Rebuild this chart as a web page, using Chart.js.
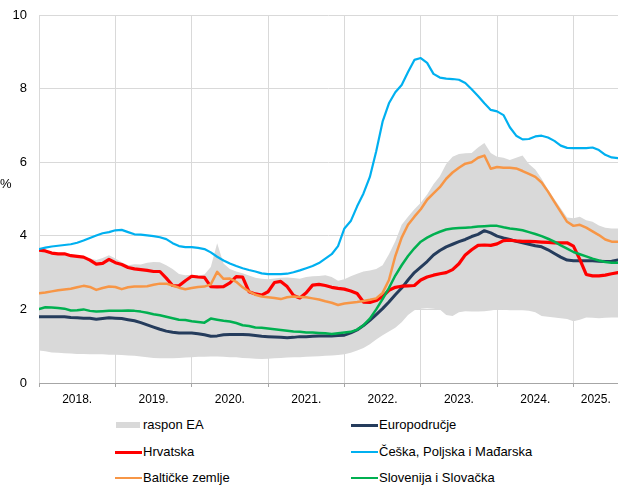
<!DOCTYPE html>
<html>
<head>
<meta charset="utf-8">
<script src="https://cdn.jsdelivr.net/npm/chart.js@4.4.1/dist/chart.umd.min.js"></script>
<style>
  body { margin: 0; background: #fff; font-family: "Liberation Sans", Arial, sans-serif; }
  #wrap { position: relative; width: 618px; height: 486px; }
  #chartBox { position: absolute; left: 0; top: 0; width: 618px; height: 410px; }
  #unit { position: absolute; left: 0; top: 176px; font-size: 13px; color: #000; }
  .item { position: absolute; height: 16px; line-height: 16px; font-size: 13px; color: #000; white-space: nowrap; }
  .sym { position: absolute; left: 0; }
</style>
</head>
<body>
<div id="wrap">
  <div id="chartBox"><canvas id="myChart"></canvas></div>
  <span id="unit">%</span>
  <div id="legend"></div>
</div>
<script>
// godine na osi x (mjesečni podaci, siječanj 2018. - kolovoz 2025.)
const years = ['2018.', '2019.', '2020.', '2021.', '2022.', '2023.', '2024.', '2025.'];
const yTicks = [0, 2, 4, 6, 8, 10];

// raspon EA (min / max)
const eaMin = [0.88,0.86,0.83,0.82,0.81,0.80, 0.79,0.79,0.78,0.78,0.78,0.77,
  0.77,0.76,0.75,0.74,0.72,0.70, 0.68,0.67,0.67,0.67,0.68,0.69,
  0.70,0.71,0.71,0.72,0.72,0.71, 0.70,0.70,0.68,0.67,0.66,0.65,
  0.66,0.67,0.68,0.69,0.70,0.70, 0.71,0.72,0.73,0.74,0.75,0.76,
  0.78,0.82,0.88,0.95,1.05,1.18, 1.30,1.40,1.50,1.65,1.85,1.98,
  2.02,2.03,2.02,2.00,1.85,1.82, 1.92,1.95,1.94,1.94,1.95,1.97,
  2.00,1.99,1.98,1.98,1.98,1.96, 1.92,1.82,1.80,1.78,1.76,1.74,
  1.68,1.72,1.78,1.77,1.76,1.77,1.78,1.78];
const eaMax = [3.63,3.60,3.55,3.52,3.50,3.46, 3.44,3.42,3.38,3.34,3.40,3.47,
  3.38,3.28,3.20,3.23,3.22,3.27, 3.29,3.28,3.20,3.10,2.96,2.93,
  2.94,2.92,2.95,3.15,3.80,3.25, 3.10,3.03,2.98,2.92,2.86,2.83,
  2.82,2.84,2.86,2.87,2.85,2.83, 2.88,2.90,2.91,2.93,2.88,2.78,
  2.82,2.90,2.97,3.03,3.06,3.10, 3.20,3.50,3.85,4.30,4.52,4.72,
  4.90,5.12,5.40,5.62,5.95,6.15, 6.22,6.24,6.25,6.40,6.52,6.25,
  6.15,6.12,6.06,6.12,6.18,5.95, 5.80,5.55,5.25,5.00,4.75,4.50,
  4.48,4.52,4.42,4.38,4.28,4.22,4.20,4.20];

const euroArea = [1.80,1.80,1.80,1.80,1.80,1.78, 1.77,1.76,1.76,1.73,1.75,1.77,
  1.76,1.75,1.72,1.69,1.64,1.58, 1.52,1.46,1.41,1.38,1.36,1.36,
  1.36,1.34,1.31,1.27,1.28,1.31, 1.32,1.32,1.32,1.31,1.29,1.27,
  1.26,1.25,1.24,1.23,1.24,1.26, 1.26,1.27,1.28,1.28,1.28,1.29,
  1.30,1.36,1.44,1.56,1.70,1.86, 2.02,2.20,2.40,2.58,2.80,3.00,
  3.15,3.30,3.48,3.60,3.70,3.77, 3.84,3.90,3.98,4.04,4.14,4.08,
  3.99,3.94,3.90,3.85,3.81,3.77, 3.73,3.70,3.62,3.52,3.42,3.34,
  3.32,3.32,3.32,3.32,3.31,3.30,3.31,3.34];

const croatia = [3.61,3.59,3.53,3.51,3.51,3.46, 3.44,3.42,3.34,3.23,3.25,3.36,
  3.27,3.22,3.14,3.10,3.08,3.06, 3.03,3.03,2.85,2.65,2.64,2.78,
  2.90,2.88,2.87,2.62,2.61,2.62, 2.72,2.89,2.88,2.48,2.42,2.39,
  2.48,2.73,2.76,2.62,2.38,2.31, 2.45,2.66,2.68,2.65,2.60,2.57,
  2.55,2.50,2.43,2.20,2.19,2.24, 2.35,2.52,2.60,2.63,2.64,2.65,
  2.80,2.88,2.93,2.97,3.00,3.08, 3.24,3.48,3.62,3.74,3.75,3.74,
  3.78,3.87,3.88,3.86,3.85,3.85, 3.84,3.83,3.82,3.81,3.81,3.81,
  3.72,3.36,2.95,2.91,2.91,2.93,2.97,3.00];

const czPlHu = [3.64,3.68,3.71,3.73,3.75,3.77, 3.81,3.87,3.94,4.01,4.07,4.10,
  4.15,4.16,4.10,4.04,4.03,4.01, 3.99,3.96,3.91,3.80,3.72,3.69,
  3.69,3.67,3.64,3.55,3.43,3.33, 3.25,3.18,3.12,3.07,3.03,2.98,
  2.96,2.96,2.96,2.97,3.01,3.06, 3.12,3.18,3.26,3.38,3.50,3.72,
  4.20,4.40,4.80,5.15,5.60,6.30, 7.10,7.60,7.90,8.10,8.45,8.78,
  8.83,8.70,8.40,8.30,8.27,8.26, 8.24,8.15,7.98,7.80,7.60,7.42,
  7.38,7.28,6.95,6.72,6.62,6.63, 6.70,6.72,6.67,6.58,6.45,6.39,
  6.38,6.38,6.38,6.40,6.33,6.20,6.13,6.11];

const baltics = [2.44,2.46,2.49,2.52,2.54,2.56, 2.60,2.64,2.61,2.53,2.58,2.62,
  2.61,2.55,2.60,2.62,2.62,2.63, 2.67,2.70,2.70,2.65,2.59,2.55,
  2.58,2.61,2.62,2.68,3.02,2.83, 2.84,2.75,2.60,2.49,2.40,2.35,
  2.33,2.31,2.28,2.33,2.35,2.34, 2.33,2.30,2.27,2.22,2.18,2.12,
  2.16,2.18,2.20,2.23,2.26,2.30, 2.45,2.80,3.45,3.95,4.30,4.52,
  4.72,4.98,5.15,5.32,5.55,5.72, 5.85,5.96,6.00,6.12,6.18,5.82,
  5.87,5.85,5.85,5.83,5.76,5.68, 5.60,5.45,5.20,4.92,4.65,4.38,
  4.27,4.30,4.22,4.12,4.02,3.90,3.84,3.84];

const siSk = [2.01,2.06,2.05,2.04,2.02,1.97, 1.98,2.00,1.96,1.94,1.95,1.96,
  1.96,1.96,1.97,1.96,1.94,1.91, 1.87,1.84,1.80,1.76,1.72,1.71,
  1.68,1.66,1.64,1.75,1.72,1.69, 1.67,1.63,1.57,1.55,1.51,1.50,
  1.48,1.46,1.44,1.42,1.40,1.39, 1.37,1.37,1.36,1.35,1.33,1.35,
  1.37,1.39,1.45,1.57,1.75,2.00, 2.28,2.58,2.92,3.20,3.45,3.66,
  3.84,3.95,4.04,4.11,4.17,4.20, 4.21,4.22,4.23,4.25,4.26,4.27,
  4.27,4.23,4.20,4.18,4.15,4.10, 4.05,3.99,3.92,3.84,3.74,3.65,
  3.56,3.50,3.44,3.38,3.33,3.29,3.27,3.27];

// pozicije oznaka: granice godina i sredine godina
const nMonths = euroArea.length;
const boundaries = years.map((y, i) => i * 12);
const labelPos = years.map((y, i) => i * 12 + 6);
labelPos[labelPos.length - 1] = (boundaries[boundaries.length - 1] + nMonths - 1) / 2;

const toXY = arr => arr.map((v, i) => ({ x: i, y: v }));

const fontFam = '"Liberation Sans", Arial, sans-serif';

const lineDs = (label, arr, color, width, order) => ({
    label: label,
    data: toXY(arr),
    borderColor: color,
    backgroundColor: color,
    borderWidth: width,
    pointRadius: 0,
    tension: 0,
    fill: false,
    borderJoinStyle: 'round',
    borderCapStyle: 'round',
    order: order
});

const ctx = document.getElementById('myChart').getContext('2d');
const myChart = new Chart(ctx, {
    type: 'line',
    data: {
        datasets: [
            { label: 'min', data: toXY(eaMin), borderWidth: 0, pointRadius: 0, fill: false, order: 8 },
            { label: 'raspon EA', data: toXY(eaMax), borderWidth: 0, pointRadius: 0,
              backgroundColor: '#d9d9d9', fill: '-1', order: 7 },
            lineDs('Europodručje', euroArea, '#253c5c', 3, 5),
            lineDs('Hrvatska', croatia, '#ff0000', 3.2, 4),
            lineDs('Češka, Poljska i Mađarska', czPlHu, '#00b0f0', 2.2, 3),
            lineDs('Baltičke zemlje', baltics, '#f79646', 2.5, 2),
            lineDs('Slovenija i Slovačka', siSk, '#00b050', 2.5, 1)
        ]
    },
    options: {
        responsive: true,
        maintainAspectRatio: false,
        animation: false,
        layout: { padding: 0 },
        plugins: {
            legend: { display: false },
            tooltip: { enabled: false },
            filler: { drawTime: 'beforeDatasetsDraw' }
        },
        scales: {
            x: {
                type: 'linear',
                min: 0,
                max: nMonths - 1,
                afterBuildTicks: scale => {
                    const vals = boundaries.concat(labelPos).sort((a, b) => a - b);
                    scale.ticks = vals.map(v => ({ value: v }));
                },
                afterFit: scale => { scale.height = 27; },
                grid: {
                    color: c => (c.tick && boundaries.includes(c.tick.value)) ? '#d9d9d9' : 'rgba(0,0,0,0)',
                    tickColor: c => (c.tick && boundaries.includes(c.tick.value)) ? '#a6a6a6' : 'rgba(0,0,0,0)',
                    tickLength: 4,
                    lineWidth: 1
                },
                border: { display: true, color: '#a6a6a6', width: 1 },
                ticks: {
                    autoSkip: false,
                    maxRotation: 0,
                    padding: 5,
                    color: '#000',
                    font: { family: fontFam, size: 12 },
                    callback: v => {
                        const i = labelPos.indexOf(v);
                        return i >= 0 ? years[i] : '';
                    }
                }
            },
            y: {
                min: 0,
                max: 10,
                afterBuildTicks: scale => { scale.ticks = yTicks.map(v => ({ value: v })); },
                afterFit: scale => {
                    scale.width = 39;
                    scale.paddingTop = 15;
                    scale.paddingBottom = 0;
                },
                grid: { color: '#d9d9d9', drawTicks: false, lineWidth: 1 },
                border: { display: false },
                ticks: {
                    padding: 12,
                    color: '#000',
                    font: { family: fontFam, size: 13 }
                }
            }
        }
    }
});

// legenda u dva stupca
const legendItems = [
    { ds: 1, type: 'box', col: 0, row: 0 },
    { ds: 2, type: 'line', col: 1, row: 0 },
    { ds: 3, type: 'line', col: 0, row: 1 },
    { ds: 4, type: 'line', col: 1, row: 1 },
    { ds: 5, type: 'line', col: 0, row: 2 },
    { ds: 6, type: 'line', col: 1, row: 2 }
];
const colX = [115, 351];
const rowY = [425, 452, 478];
const legend = document.getElementById('legend');
legendItems.forEach(it => {
    const ds = myChart.data.datasets[it.ds];
    const el = document.createElement('div');
    el.className = 'item';
    el.style.left = colX[it.col] + 'px';
    el.style.top = (rowY[it.row] - 8) + 'px';
    el.style.paddingLeft = '28px';
    const sym = document.createElement('span');
    sym.className = 'sym';
    if (it.type === 'box') {
        sym.style.cssText = 'left:1px;top:5px;width:24px;height:6px;background:' + ds.backgroundColor;
    } else {
        const h = ds.borderWidth >= 3 ? 3 : 2.5;
        sym.style.cssText = 'left:0;top:' + (8 - h / 2) + 'px;width:27px;height:' + h + 'px;background:' + ds.borderColor;
    }
    el.appendChild(sym);
    el.appendChild(document.createTextNode(ds.label));
    legend.appendChild(el);
});
</script>
</body>
</html>
